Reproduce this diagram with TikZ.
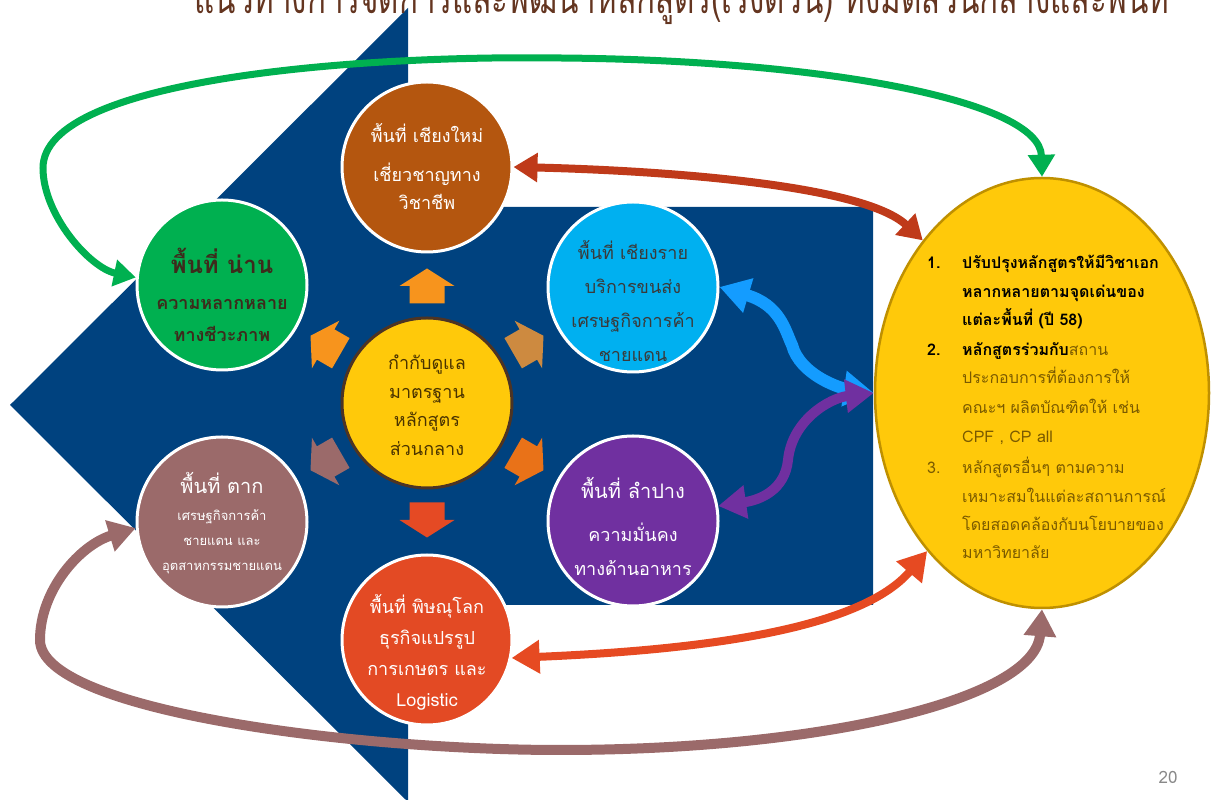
\documentclass[tikz,border=0pt]{standalone}
\usepackage{fontspec}
\newfontfamily\thaifont[Script=Thai]{Loma}
\usetikzlibrary{arrows.meta,shapes.geometric}

\definecolor{titlebrown}{HTML}{643520}
\definecolor{bignavy}{HTML}{00427F}
\definecolor{cmfill}{HTML}{B4560F}
\definecolor{crfill}{HTML}{00B0F0}
\definecolor{nanfill}{HTML}{00B050}
\definecolor{ctrfill}{HTML}{FFC90A}
\definecolor{ctrdraw}{HTML}{4D3424}
\definecolor{takfill}{HTML}{9B6A6A}
\definecolor{lpfill}{HTML}{7030A0}
\definecolor{plfill}{HTML}{E34A24}
\definecolor{elfill}{HTML}{FFC90A}
\definecolor{eldraw}{HTML}{BF9000}
\definecolor{lkgreen}{HTML}{00B050}
\definecolor{lkred}{HTML}{BF3A1A}
\definecolor{lkcyan}{HTML}{149CFF}
\definecolor{lkpurple}{HTML}{7030A0}
\definecolor{lkorange}{HTML}{E64A22}
\definecolor{lkmauve}{HTML}{9B6A6A}
\definecolor{bkup}{HTML}{F7941D}
\definecolor{bkur}{HTML}{CD8A40}
\definecolor{bklr}{HTML}{E97218}
\definecolor{bkdn}{HTML}{E54A24}
\definecolor{bkll}{HTML}{9B6A6A}
\definecolor{crtext}{HTML}{3A3A3A}
\definecolor{nantext}{HTML}{3D2B1C}
\definecolor{ctrtext}{HTML}{4A3300}
\definecolor{itemtext}{HTML}{7A5A00}
\definecolor{pagegray}{HTML}{898989}

\tikzset{
  area/.style={circle, draw=white, line width=3pt, minimum size=170pt, inner sep=0pt},
  lbl/.style={align=center, inner sep=0pt},
  itemline/.style={anchor=base west, inner sep=0pt, font=\thaifont\fontsize{16}{20}\selectfont},
  link/.style 2 args={line width=#1, {Triangle[length=#2,width=#2+4pt]}-{Triangle[length=#2,width=#2+4pt]}},
}

\begin{document}
\begin{tikzpicture}[x=1pt,y=1pt]
  \useasboundingbox (0,0) rectangle (1213,800);
  \clip (0,0) rectangle (1213,800);
  % Big arrow
  \fill[bignavy] (10,395) -- (408,792) -- (408,593) -- (873,593) -- (873,195)
    -- (408,195) -- (408,-2) -- cycle;
  % Title (cut at top)
  \node[anchor=base, text=titlebrown, inner sep=0pt] (title) at (682,786)
    {\resizebox{975pt}{45pt}{\thaifont แนวทางการจัดการและพัฒนาหลักสูตร(เร่งด่วน) ทั้งมิติส่วนกลางและพื้นที่}};
  % Areas
  \node[area, fill=cmfill] (cm) at (427,633) {};
  \node[area, fill=crfill] (cr) at (633,513) {};
  \node[area, fill=nanfill] (nan) at (222,515) {};
  \node[area, fill=ctrfill, draw=ctrdraw] (ctr) at (427,397) {};
  \node[area, fill=takfill] (tak) at (222,278) {};
  \node[area, fill=lpfill] (lp) at (633,279) {};
  \node[area, fill=plfill] (pl) at (427,160) {};
  % Small arrows round the centre
  \foreach \ang/\col in {90/bkup, 30/bkur, -30/bklr, -90/bkdn, 210/bkll, 150/bkup}
    \fill[\col, shift={(427,397)}, rotate=\ang] (99.5,-17.5) -- (117,-17.5) -- (117,-27.5)
      -- (134.5,0) -- (117,27.5) -- (117,17.5) -- (99.5,17.5) -- cycle;
  % Labels
  \node[lbl, text=white, font=\thaifont\fontsize{18}{28}\selectfont] (cm-t) at ([yshift=0]cm.center)
    {พื้นที่ เชียงใหม่\\[11pt]เชี่ยวชาญทาง\\วิชาชีพ};
  \node[lbl, text=crtext, font=\thaifont\fontsize{18}{34}\selectfont] (cr-t) at ([yshift=-14]cr.center)
    {พื้นที่ เชียงราย\\บริการขนส่ง\\เศรษฐกิจการค้า\\ชายแดน};
  \node[lbl, text=nantext, font=\thaifont\bfseries\fontsize{18}{32}\selectfont] (nan-t) at ([yshift=-10]nan.center)
    {{\fontsize{24}{30}\selectfont พื้นที่ น่าน}\\[4pt]ความหลากหลาย\\ทางชีวะภาพ};
  \node[lbl, text=ctrtext, font=\thaifont\fontsize{18}{28.5}\selectfont] (ctr-t) at ([yshift=-2]ctr.center)
    {กำกับดูแล\\มาตรฐาน\\หลักสูตร\\ส่วนกลาง};
  \node[lbl, text=white, font=\thaifont\fontsize{13}{25}\selectfont] (tak-t) at ([yshift=-1]tak.center)
    {{\fontsize{20}{24}\selectfont พื้นที่ ตาก}\\[2pt]เศรษฐกิจการค้า\\ชายแดน และ\\อุตสาหกรรมชายแดน};
  \node[lbl, text=white, font=\thaifont\fontsize{18}{34}\selectfont] (lp-t) at ([yshift=-5]lp.center)
    {{\fontsize{20}{24}\selectfont พื้นที่ ลำปาง}\\[9pt]ความมั่นคง\\ทางด้านอาหาร};
  \node[lbl, text=white, font=\thaifont\fontsize{18}{31}\selectfont] (pl-t) at ([yshift=-12]pl.center)
    {พื้นที่ พิษณุโลก\\ธุรกิจแปรรูป\\การเกษตร และ\\Logistic};
  % Plan
  \node[ellipse, draw=eldraw, fill=elfill, line width=2.5pt, minimum width=334pt,
    minimum height=430pt, inner sep=0pt] (el) at (1042,407) {};
  \node[itemline, font=\thaifont\bfseries\fontsize{16}{20}\selectfont] (n1) at (927,531) {1.};
  \node[itemline, font=\thaifont\bfseries\fontsize{16}{20}\selectfont] (l1) at (962,531) {ปรับปรุงหลักสูตรให้มีวิชาเอก};
  \node[itemline, font=\thaifont\bfseries\fontsize{16}{20}\selectfont] (l2) at (962,502) {หลากหลายตามจุดเด่นของ};
  \node[itemline, font=\thaifont\bfseries\fontsize{16}{20}\selectfont] (l3) at (962,474) {แต่ละพื้นที่ (ปี 58)};
  \node[itemline, font=\thaifont\bfseries\fontsize{16}{20}\selectfont] (n2) at (927,444) {2.};
  \node[itemline, text=itemtext] (l4) at (962,444) {\textcolor{black}{\bfseries หลักสูตรร่วมกับ}สถาน};
  \node[itemline, text=itemtext] (l5) at (962,416) {ประกอบการที่ต้องการให้};
  \node[itemline, text=itemtext] (l6) at (962,386) {คณะฯ ผลิตบัณฑิตให้ เช่น};
  \node[itemline, text=itemtext] (l7) at (962,357) {CPF , CP all};
  \node[itemline, text=itemtext] (n3) at (927,326) {3.};
  \node[itemline, text=itemtext] (l8) at (962,326) {หลักสูตรอื่นๆ ตามความ};
  \node[itemline, text=itemtext] (l9) at (962,297) {เหมาะสมในแต่ละสถานการณ์};
  \node[itemline, text=itemtext] (l10) at (962,269) {โดยสอดคล้องกับนโยบายของ};
  \node[itemline, text=itemtext] (l11) at (962,241) {มหาวิทยาลัย};
  % Links
  \draw[link={7pt}{22pt}, lkgreen] (nan.175) .. controls (90,532) and (43,585) .. (43,632)
    .. controls (43,720) and (350,745) .. (560,742) .. controls (820,740) and (1040,700) .. (el.north);
  \draw[link={8pt}{24pt}, lkred] (cm.east) .. controls (640,630) and (860,618) .. (el.128);
  \draw[link={12pt}{30pt}, lkcyan] (cr.east) .. controls (780,495) and (785,470) .. (792,455)
    .. controls (800,425) and (840,412) .. (el.west);
  \draw[link={10pt}{28pt}, lkpurple] (lp.10) .. controls (760,300) and (785,310) .. (788,340)
    .. controls (792,380) and (830,402) .. (el.west);
  \draw[link={8pt}{28pt}, lkorange] (pl.-12) .. controls (700,150) and (860,170) .. (el.234);
  \draw[link={10pt}{27pt}, lkmauve] (tak.184) .. controls (80,255) and (40,210) .. (40,160)
    .. controls (40,90) and (350,50) .. (560,50) .. controls (820,50) and (1035,100) .. (el.south);
  % Page number
  \node[text=pagegray, font=\thaifont\fontsize{17}{20}\selectfont] (page) at (1168,23) {20};
\end{tikzpicture}
\end{document}
